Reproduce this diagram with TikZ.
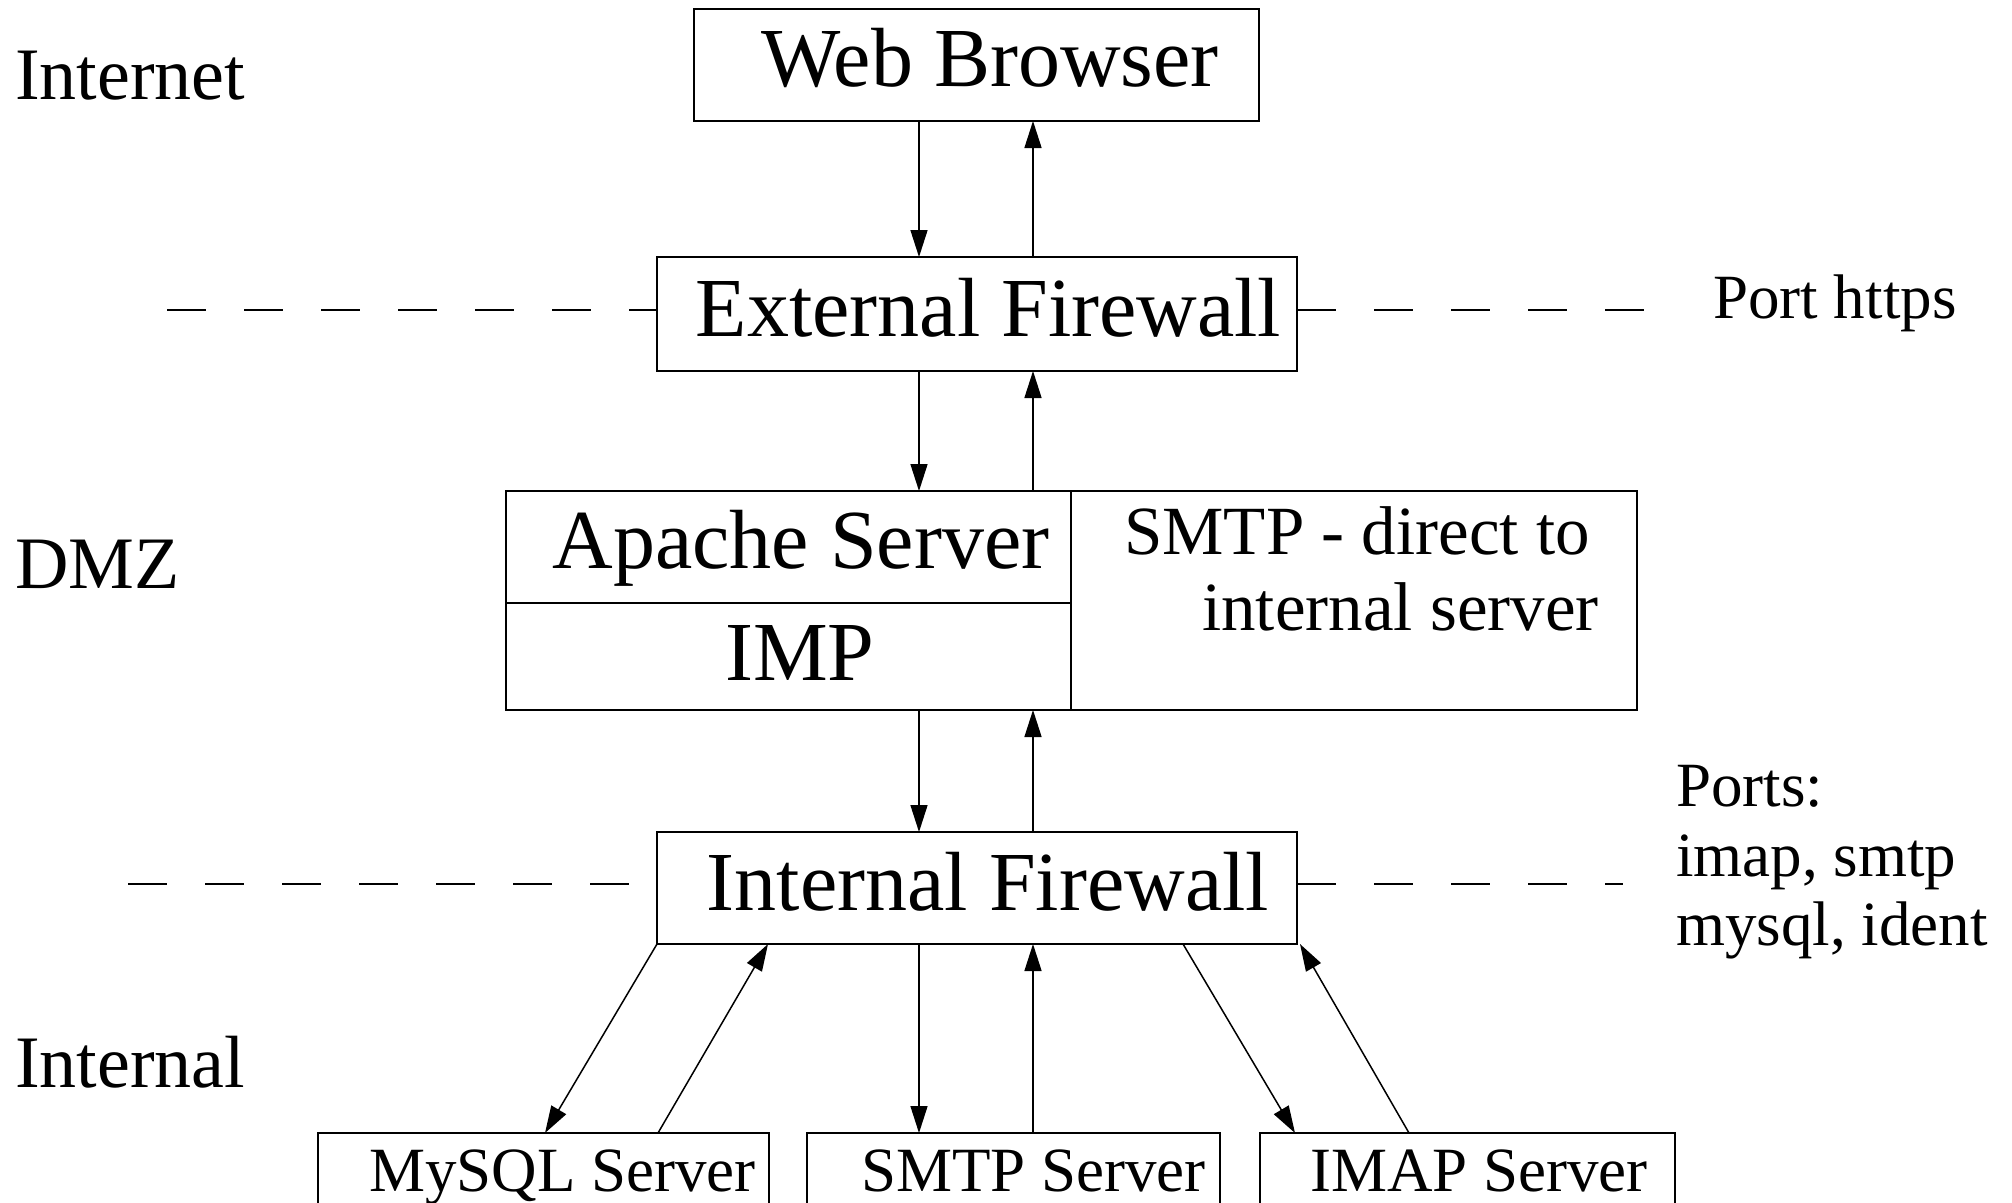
\documentclass[tikz,border=0pt]{standalone}
\usepackage{fontspec}
\setmainfont{Liberation Serif}
\usetikzlibrary{arrows.meta}
\begin{document}
\begin{tikzpicture}[x=1pt,y=-1pt,
  box/.style={draw, line width=1.5pt, inner sep=0pt, outer sep=0pt, rectangle},
  arr/.style={line width=1.5pt, -{Triangle[length=27pt,width=17pt]}},
  dsh/.style={line width=1.5pt, dash pattern=on 39pt off 38pt},
  big/.style={font=\fontsize{84}{84}\selectfont, inner sep=0pt, anchor=base},
  lbl/.style={font=\fontsize{74}{74}\selectfont, inner sep=0pt, anchor=base west},
  mid/.style={font=\fontsize{69}{69}\selectfont, inner sep=0pt, anchor=base},
  sml/.style={font=\fontsize{63}{63}\selectfont, inner sep=0pt, anchor=base},
  smw/.style={font=\fontsize{63}{63}\selectfont, inner sep=0pt, anchor=base west}]
\useasboundingbox (0,0) rectangle (2012,1202);
\clip (0,0) rectangle (2012,1202);

% boxes
\node[box, minimum width=565pt, minimum height=112pt] (wb) at (976.5,65) {};
\node[box, minimum width=640pt, minimum height=114pt] (ef) at (977,314) {};
\node[box, minimum width=565pt, minimum height=112pt] (ap) at (788.5,547) {};
\node[box, minimum width=565pt, minimum height=107pt] (imp) at (788.5,656.5) {};
\node[box, minimum width=566pt, minimum height=219pt] (sd) at (1354,600.5) {};
\node[box, minimum width=640pt, minimum height=112pt] (if) at (977,888) {};
\node[box, minimum width=451pt, minimum height=140pt] (my) at (543.5,1203) {};
\node[box, minimum width=413pt, minimum height=140pt] (sm) at (1013.5,1203) {};
\node[box, minimum width=415pt, minimum height=140pt] (im) at (1467.5,1203) {};

% texts
\node[big] (twb) at (990,86) {Web Browser};
\node[big] (tef) at (988.5,336) {External Firewall};
\node[big] (tap) at (801,568) {Apache Server};
\node[big] (timp) at (800,680) {IMP};
\node[mid] (tsd1) at (1357,554) {SMTP - direct to};
\node[mid] (tsd2) at (1400.5,630) {internal server};
\node[big] (tif) at (988,910) {Internal Firewall};
\node[sml] (tmy) at (562.5,1191) {MySQL Server};
\node[sml] (tsm) at (1033.5,1191) {SMTP Server};
\node[sml] (tim) at (1479,1191) {IMAP Server};

\node[lbl] (lin) at (15,99) {Internet};
\node[lbl] (ldmz) at (15,588) {DMZ};
\node[lbl] (lint) at (15,1087) {Internal};
\node[smw] (lph) at (1713,318) {Port https};
\node[smw] (lp1) at (1676,806) {Ports:};
\node[smw] (lp2) at (1676,876) {imap, smtp};
\node[smw] (lp3) at (1676,945) {mysql, ident};

% x positions
\coordinate (xd) at (919,0);
\coordinate (xu) at (1033,0);
\coordinate (dl1) at (167,310);
\coordinate (dr1) at (1662,310);
\coordinate (dl2) at (128,884);
\coordinate (dr2) at (1623,884);

% dashed lines
\draw[dsh] (dl1) -- (dl1 -| ef.west);
\draw[dsh] (dr1 -| ef.east) -- (dr1);
\draw[dsh] (dl2) -- (dl2 -| if.west);
\draw[dsh] (dr2 -| if.east) -- (dr2);

% vertical arrows
\draw[arr] (wb.south -| xd) -- (ef.north -| xd);
\draw[arr] (ef.north -| xu) -- (wb.south -| xu);
\draw[arr] (ef.south -| xd) -- (ap.north -| xd);
\draw[arr] (ap.north -| xu) -- (ef.south -| xu);
\draw[arr] (imp.south -| xd) -- (if.north -| xd);
\draw[arr] (if.north -| xu) -- (imp.south -| xu);
\draw[arr] (if.south -| xd) -- (sm.north -| xd);
\draw[arr] (sm.north -| xu) -- (if.south -| xu);

% diagonal arrows
\coordinate (a1) at (657,0);
\coordinate (a2) at (545,0);
\coordinate (a3) at (658,0);
\coordinate (a4) at (768,0);
\coordinate (b1) at (1183,0);
\coordinate (b2) at (1295,0);
\coordinate (b3) at (1409,0);
\coordinate (b4) at (1300,0);
\draw[arr] (if.south -| a1) -- (my.north -| a2);
\draw[arr] (my.north -| a3) -- (if.south -| a4);
\draw[arr] (if.south -| b1) -- (im.north -| b2);
\draw[arr] (im.north -| b3) -- (if.south -| b4);
\end{tikzpicture}
\end{document}
